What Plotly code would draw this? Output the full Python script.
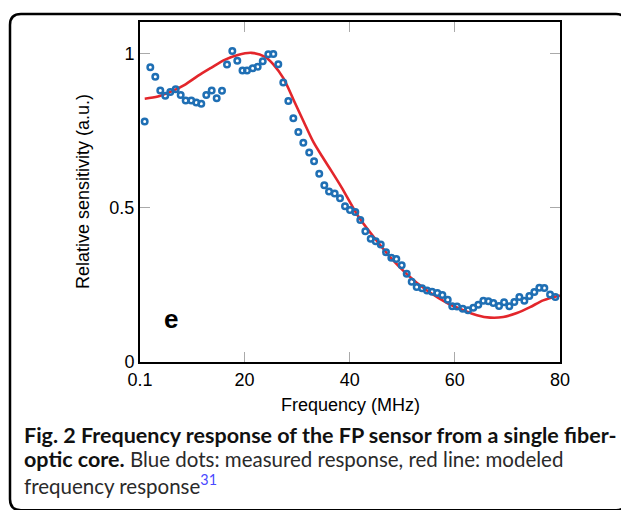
import plotly.graph_objects as go

# measured response (blue dots)
freq_meas = [0.99, 2.06, 3.01, 3.96, 4.91, 5.86, 6.89, 7.84, 8.79, 9.86,
             10.81, 11.76, 12.71, 13.74, 14.69, 15.70, 16.65, 17.66, 18.61, 19.60,
             20.46, 21.54, 22.49, 23.45, 24.51, 25.46, 26.41, 27.36, 28.32, 29.27,
             30.22, 31.17, 32.29, 33.21, 34.20, 35.16, 36.06, 37.14, 38.15, 39.10,
             40.05, 41.06, 42.01, 42.97, 43.99, 44.94, 45.90, 46.90, 47.91, 48.86,
             49.89, 50.84, 51.79, 52.74, 53.75, 54.70, 55.66, 56.66, 57.62, 58.64,
             59.50, 60.41, 61.50, 62.50, 63.51, 64.46, 65.42, 66.37, 67.32, 68.40,
             69.36, 70.36, 71.31, 72.27, 73.22, 74.17, 75.12, 76.07, 77.02, 78.11,
             79.12]
sens_meas = [0.780, 0.956, 0.925, 0.881, 0.864, 0.876, 0.885, 0.866, 0.848, 0.848,
             0.842, 0.838, 0.866, 0.881, 0.856, 0.880, 0.965, 1.009, 0.977, 0.946,
             0.946, 0.953, 0.958, 0.976, 0.998, 0.999, 0.966, 0.907, 0.847, 0.791,
             0.746, 0.711, 0.680, 0.651, 0.611, 0.573, 0.553, 0.547, 0.531, 0.505,
             0.493, 0.487, 0.461, 0.424, 0.400, 0.392, 0.381, 0.356, 0.338, 0.334,
             0.314, 0.286, 0.260, 0.243, 0.239, 0.232, 0.228, 0.224, 0.217, 0.202,
             0.181, 0.180, 0.173, 0.168, 0.176, 0.186, 0.199, 0.197, 0.191, 0.182,
             0.194, 0.181, 0.195, 0.211, 0.199, 0.214, 0.227, 0.241, 0.240, 0.219,
             0.211]

# modeled response (red line)
freq_model = [1, 3.5, 6, 8.6, 11.1, 13.7, 16.2, 18.7, 21.3, 23.9, 25.5, 27.4,
              29.3, 31.2, 33.1, 35.0, 36.5, 38.5, 41, 42, 45.1, 47.7, 50.8, 54.7,
              58.8, 61.6, 64.2, 66.7, 69.2, 71.8, 74.3, 76.8, 80]
sens_model = [0.854, 0.861, 0.877, 0.899, 0.928, 0.955, 0.980, 0.996, 1.003, 0.990,
              0.965, 0.920, 0.851, 0.781, 0.713, 0.660, 0.620, 0.565, 0.490, 0.463,
              0.394, 0.340, 0.286, 0.232, 0.189, 0.168, 0.152, 0.144, 0.146, 0.159,
              0.178, 0.200, 0.216]

x_ticks = [0.1, 20, 40, 60, 80]
x_ticktext = ['0.1', '20', '40', '60', '80']
y_ticks = [0, 0.5, 1]
y_ticktext = ['0', '0.5', '1']

# page body has an 8px margin, so work in shifted pixel coords
OFF = 8
W, H = 629, 510
L, T = 140 - OFF, 20 - OFF
R, B = W - (560 - OFF), H - (362 - OFF)
pw, ph = W - L - R, H - T - B


def px(x):
    return (x - OFF - L) / pw


def py(y):
    return (H - B - (y - OFF)) / ph


fig = go.Figure()

fig.add_trace(go.Scatter(
    x=freq_model, y=sens_model, mode='lines',
    line=dict(color='#e3262b', width=2.6, shape='spline', smoothing=0.8),
    hoverinfo='skip', showlegend=False
))

fig.add_trace(go.Scatter(
    x=freq_meas, y=sens_meas, mode='markers',
    marker=dict(symbol='circle-open', size=5.5, color='#1f6fb4',
                line=dict(width=2.5, color='#1f6fb4')),
    showlegend=False
))

axis_common = dict(
    showgrid=False, zeroline=False, showline=True, linecolor='black', linewidth=2,
    mirror='ticks', ticks='inside', ticklen=10, tickwidth=1, tickcolor='#aaaaaa',
    tickfont=dict(family='Liberation Sans, Arial, sans-serif', size=18, color='black'),
)

fig.update_xaxes(range=[0.1, 80], tickvals=x_ticks, ticktext=x_ticktext, **axis_common)
fig.update_yaxes(range=[0, 1.103], tickvals=y_ticks, ticktext=y_ticktext, **axis_common)

font_ax = dict(family='Liberation Sans, Arial, sans-serif', size=18, color='black')
cap_bold = dict(family='Lato, sans-serif', size=21.5, color='#111111')
cap_reg = dict(family='Lato, sans-serif', size=20.5, color='#2a2a2a')

# frame round the figure
x0, x1 = px(10), px(627)
y0, y1 = py(12), py(511)
rx, ry = 11 / pw, 11 / ph
frame = (f'M {x0},{y1 + ry} L {x0},{y0 - ry} Q {x0},{y0} {x0 + rx},{y0} '
         f'L {x1 - rx},{y0} Q {x1},{y0} {x1},{y0 - ry} '
         f'L {x1},{y1 + ry} Q {x1},{y1} {x1 - rx},{y1} '
         f'L {x0 + rx},{y1} Q {x0},{y1} {x0},{y1 + ry} Z')

cap_x = px(22)

fig.update_layout(
    width=W, height=H,
    margin=dict(l=L, r=R, t=T, b=B),
    paper_bgcolor='white', plot_bgcolor='white',
    font=font_ax,
    shapes=[dict(type='path', xref='paper', yref='paper', path=frame,
                 line=dict(color='black', width=2.5), layer='below')],
    annotations=[
        dict(text='<b>e</b>', x=6.0, y=0.139, xref='x', yref='y', showarrow=False,
             font=dict(family='Liberation Sans, Arial, sans-serif', size=26, color='black'),
             xanchor='center', yanchor='middle'),
        dict(text='Frequency (MHz)', x=0.5, y=py(405), xref='paper', yref='paper',
             showarrow=False, font=font_ax, xanchor='center', yanchor='middle'),
        dict(text='Relative sensitivity (a.u.)', x=px(83), y=0.5, xref='paper', yref='paper',
             showarrow=False, font=font_ax, textangle=-90, xanchor='center', yanchor='middle'),
        dict(text='<b>Fig. 2 Frequency response of the FP sensor from a single fiber-</b>',
             x=cap_x, y=py(435), xref='paper', yref='paper', showarrow=False,
             font=cap_bold, xanchor='left', yanchor='middle'),
        dict(text='<b><span style="font-size:21.5px;color:#111111">optic core.</span></b>'
                  ' Blue dots: measured response, red line: modeled',
             x=cap_x, y=py(460), xref='paper', yref='paper', showarrow=False,
             font=cap_reg, xanchor='left', yanchor='middle'),
        dict(text='frequency response<sup><span style="color:#4a4aff">31</span></sup>',
             x=cap_x, y=py(485), xref='paper', yref='paper', showarrow=False,
             font=cap_reg, xanchor='left', yanchor='middle'),
    ],
)

fig.write_html("out.html")
